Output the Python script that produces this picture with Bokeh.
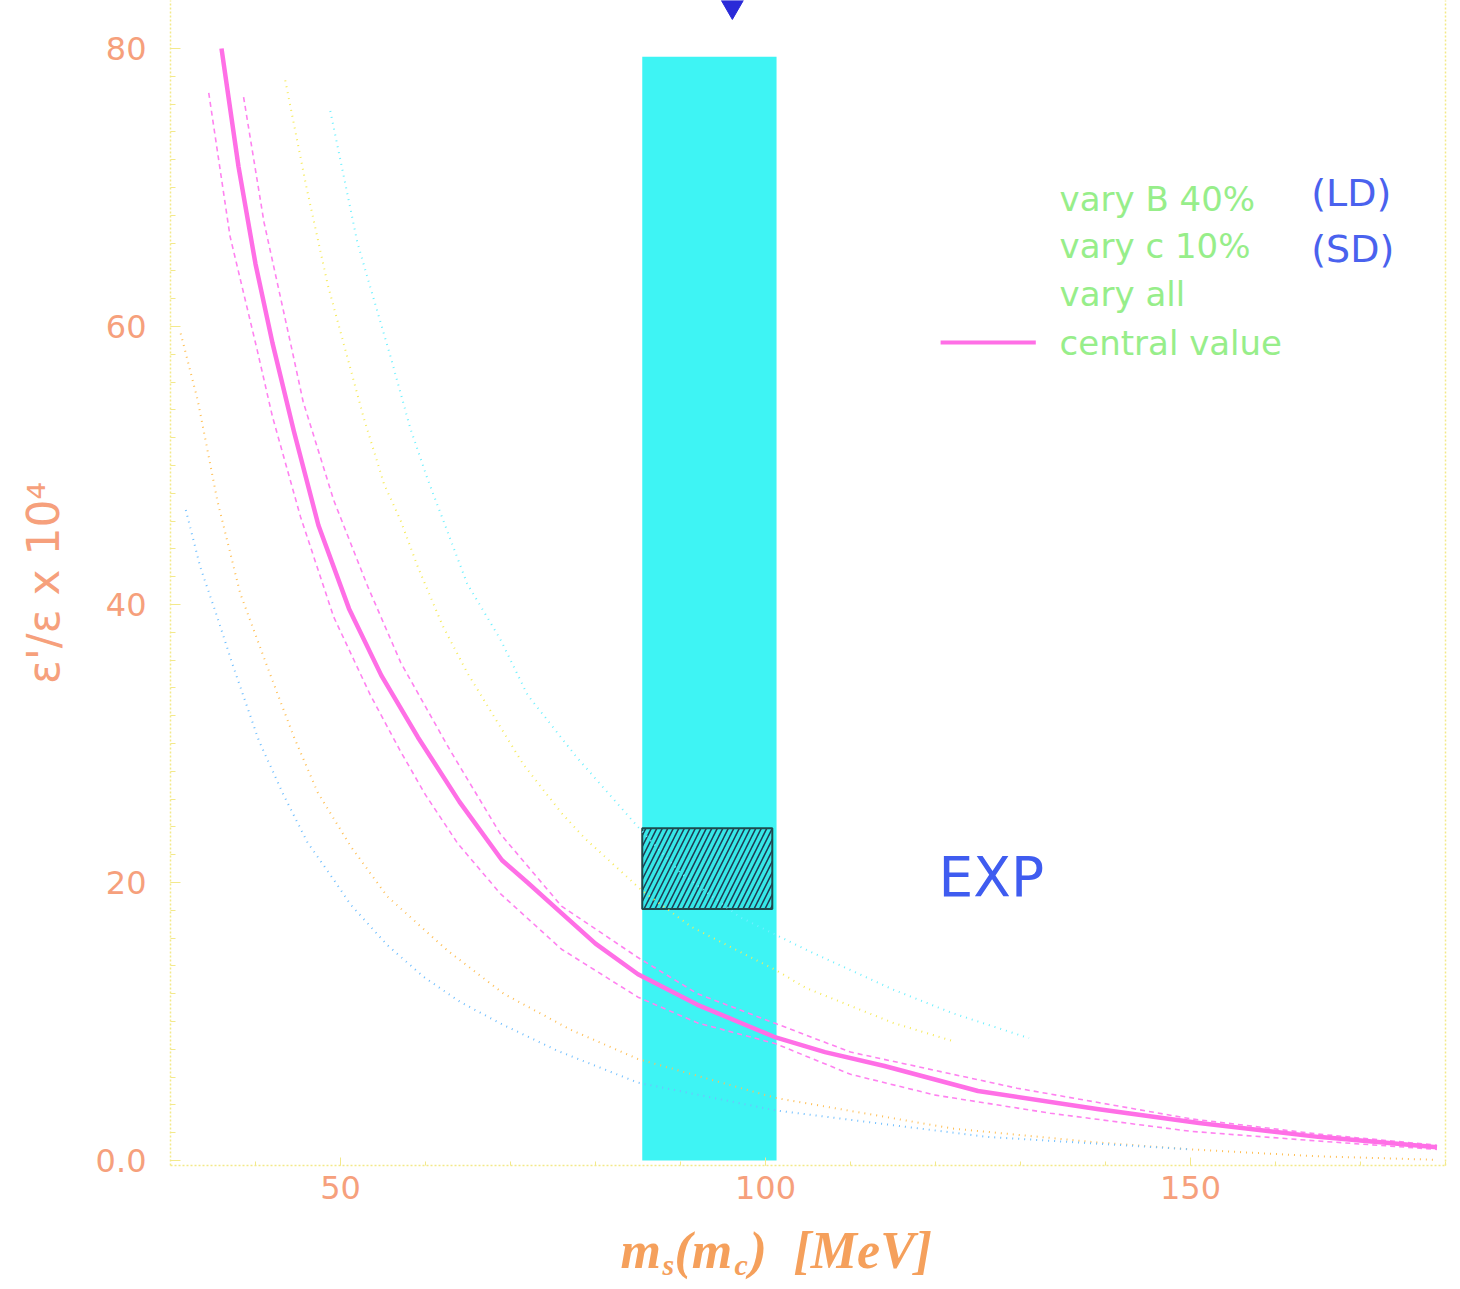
from bokeh.plotting import figure
from bokeh.models import Range1d, FixedTicker, LinearAxis
from bokeh.layouts import column
from bokeh.core.properties import value
from bokeh.embed import file_html
from bokeh.resources import INLINE

# ---------------- data ----------------
# central value (thick magenta)
central_x = [36, 38, 40, 42, 44.5, 47.4, 51, 54.8, 59.1, 64, 69, 72, 76, 80, 85, 92, 101, 107, 114, 125, 139, 151, 165, 179]
central_y = [80, 71.5, 64.5, 58.8, 52.5, 45.7, 39.7, 34.9, 30.45, 25.8, 21.6, 20.0, 17.8, 15.6, 13.4, 11.2, 8.9, 7.8, 6.8, 5.0, 3.7, 2.7, 1.7, 0.95]

# thin dashed magenta pair
mag_lo_x = [34.5, 37, 40.2, 42, 45.3, 49.2, 53.5, 57, 60, 63.8, 68.8, 76, 85, 92, 101.2, 110, 120, 133.5, 150, 165, 179]
mag_lo_y = [76.8, 66.5, 58.3, 53.5, 46.3, 39.1, 33.5, 29.5, 26.3, 22.8, 19.2, 15.2, 11.75, 9.9, 8.4, 6.2, 4.7, 3.4, 2.1, 1.4, 0.8]
mag_hi_x = [38.6, 41, 44.3, 45.6, 49.2, 53.2, 57.1, 62.9, 68.8, 76, 85, 92, 101.2, 110, 129.6, 150, 165, 179]
mag_hi_y = [76.5, 67.5, 58.3, 54.6, 47.5, 41.3, 35.8, 29.5, 23.5, 18.3, 14.6, 12.0, 9.85, 7.8, 5.2, 3.0, 1.9, 1.1]

# dotted yellow pair
yel_hi_x = [43.5, 46, 48.5, 50.8, 52.7, 55.1, 57.1, 59.1, 62, 64.9, 68.8, 71.5, 76, 78.7, 85.5, 91.3, 101.2, 104.8, 115, 122]
yel_hi_y = [77.7, 70, 63, 57.8, 53.5, 48.7, 46.0, 42.7, 38.5, 35.1, 31.2, 28.5, 25.0, 23.2, 19.4, 16.8, 13.7, 12.4, 9.9, 8.6]
yel_lo_x = [31.2, 33.2, 35.5, 38.2, 41.4, 44.5, 47.3, 51.2, 55.5, 62.6, 69.2, 77.1, 85, 101.2, 122, 139, 150, 165, 179]
yel_lo_y = [59.5, 54.7, 47.5, 40.8, 35.5, 30.5, 26.5, 22.6, 19.0, 15.1, 12.0, 9.4, 7.3, 4.5, 2.3, 1.3, 0.8, 0.3, 0.05]

# dotted cyan pair
cyan_hi_x = [48.8, 52, 55.9, 58.2, 60.2, 64.9, 68.8, 72, 77.8, 85, 90, 97, 102, 105, 115, 122, 128, 131]
cyan_hi_y = [75.5, 66, 57.8, 52.7, 49.1, 41.5, 37.5, 33.5, 29.0, 24.0, 20.7, 17.5, 16.0, 15.1, 12.3, 10.6, 9.4, 8.8]
cyan_lo_x = [31.8, 33.5, 35.5, 37.4, 40.4, 43.3, 46.1, 49.2, 51.2, 55.5, 59.8, 64.1, 69, 75.5, 85, 101.2, 126, 150]
cyan_lo_y = [46.8, 42.7, 39.1, 35.5, 30.2, 26.3, 22.9, 20.2, 18.4, 15.5, 13.2, 11.4, 9.8, 7.9, 5.6, 3.6, 1.7, 0.8]

# experimental band (ms range) and hatched experimental box (eps'/eps range)
band_ms = [85.5, 101.3]
band_top = 79.4
exp_ms = [85.5, 100.8]
exp_eps = [18.1, 23.9]
arrow_ms = [96.1]
arrow_y = [83.0]

x_ticks = [50, 100, 150]
y_ticks = [0, 20, 40, 60, 80]

legend_labels = ["vary B 40%", "vary c 10%", "vary all", "central value"]
legend_tags = ["(LD)", "(SD)"]

TICK_COLOR = "#f6a07c"
AXIS_COLOR = "#f3e98a"

# ---------------- main figure ----------------
p = figure(width=1460, height=1215,
           x_range=Range1d(30, 180), y_range=Range1d(-0.36, 83.45),
           output_backend="svg", toolbar_location=None,
           min_border_left=170, min_border_right=15,
           min_border_top=0, min_border_bottom=50)
p.outline_line_color = None
p.grid.visible = False
p.background_fill_color = "white"
p.border_fill_color = "white"

# x axis
xa = p.xaxis[0]
xa.ticker = FixedTicker(ticks=x_ticks, minor_ticks=list(range(40, 181, 10)))
xa.major_label_text_font = "DejaVu Sans"
xa.major_label_text_font_size = "32px"
xa.major_label_text_color = TICK_COLOR
xa.major_label_standoff = 10
xa.major_tick_in = 8
xa.major_tick_out = 0
xa.minor_tick_in = 4
xa.minor_tick_out = 0
xa.major_tick_line_color = AXIS_COLOR
xa.minor_tick_line_color = AXIS_COLOR
xa.axis_line_color = AXIS_COLOR
xa.axis_line_dash = "2 2"
xa.axis_line_width = 1.5

# y axis
ya = p.yaxis[0]
ya.ticker = FixedTicker(ticks=y_ticks, minor_ticks=list(range(0, 81, 2)))
ya.major_label_overrides = {0: "0.0"}
ya.major_label_text_font = "DejaVu Sans"
ya.major_label_text_font_size = "32px"
ya.major_label_text_color = TICK_COLOR
ya.major_label_standoff = 24
ya.major_tick_in = 10
ya.major_tick_out = 0
ya.minor_tick_in = 5
ya.minor_tick_out = 0
ya.major_tick_line_color = AXIS_COLOR
ya.minor_tick_line_color = AXIS_COLOR
ya.axis_line_color = AXIS_COLOR
ya.axis_line_dash = "2 2"
ya.axis_line_width = 1.5
ya.axis_label = "ε'/ε x 10⁴"
ya.axis_label_text_font = "DejaVu Sans"
ya.axis_label_text_font_style = "normal"
ya.axis_label_text_font_size = "44px"
ya.axis_label_text_color = TICK_COLOR
ya.axis_label_standoff = 24

ra = LinearAxis(ticker=FixedTicker(ticks=[]), axis_line_color=AXIS_COLOR,
                axis_line_dash="2 2", axis_line_width=1.5,
                major_label_text_font_size="0px")
p.add_layout(ra, "right")

# ---------------- band and box ----------------
p.quad(left=[band_ms[0]], right=[band_ms[1]], bottom=[0], top=[band_top],
       fill_color="#3ef4f4", line_color=None)
p.quad(left=[exp_ms[0]], right=[exp_ms[1]], bottom=[exp_eps[0]], top=[exp_eps[1]],
       fill_color="#36e8e8", line_color="#1d4b4e", line_width=2,
       hatch_pattern="/", hatch_color="#1d3f55", hatch_scale=11, hatch_weight=1.6)

# ---------------- curves ----------------
DOT = "1 5"
p.line(yel_lo_x, yel_lo_y, line_color="#ffbf55", line_width=2, line_dash=DOT, line_join="round")
p.line(cyan_lo_x, cyan_lo_y, line_color="#70bfff", line_width=2, line_dash=DOT, line_join="round")
p.line(yel_hi_x, yel_hi_y, line_color="#f6ea5a", line_width=2, line_dash=DOT, line_join="round")
p.line(cyan_hi_x, cyan_hi_y, line_color="#6ff0ff", line_width=2, line_dash=DOT, line_join="round")
p.line(mag_lo_x, mag_lo_y, line_color="#ff82f0", line_width=1.6, line_dash="5 4", line_join="round")
p.line(mag_hi_x, mag_hi_y, line_color="#ff82f0", line_width=1.6, line_dash="5 4", line_join="round")
p.line(central_x, central_y, line_color="#ff6fe6", line_width=4.5, line_join="round")

# arrow marker at top
p.scatter(arrow_ms, arrow_y, marker="inverted_triangle", size=22,
          fill_color="#2a2ad8", line_color="#2a2ad8")

# ---------------- legend (drawn as text) ----------------
p.text(x=[134.6] * 4, y=[69.2, 65.76, 62.3, 58.78], text=legend_labels,
       text_font=value("DejaVu Sans"), text_font_size=value("34px"),
       text_color="#97ee8a", text_baseline="middle", text_align="left")
p.text(x=[164.2, 164.2], y=[69.57, 65.6], text=legend_tags,
       text_font=value("DejaVu Sans"), text_font_size=value("38px"),
       text_color="#4a62ee", text_baseline="middle", text_align="left")
p.line([120.6, 131.8], [58.85, 58.85], line_color="#ff6fe6", line_width=4)

p.text(x=[120.35], y=[20.43], text=["EXP"],
       text_font=value("DejaVu Sans"), text_font_size=value("55px"),
       text_color="#3f5cf0", text_baseline="middle", text_align="left")

# ---------------- x-axis title strip (with subscripts) ----------------
p2 = figure(width=1460, height=74, x_range=p.x_range, y_range=Range1d(0, 74),
            x_axis_type=None, y_axis_type=None,
            output_backend="svg", toolbar_location=None,
            min_border_left=170, min_border_right=15,
            min_border_top=0, min_border_bottom=0)
p2.outline_line_color = None
p2.background_fill_color = "white"
p2.border_fill_color = "white"

XL_COLOR = "#f5a05c"
xl_big_x = [82.94, 89.29, 98.12, 103.3]
xl_big_t = ["m", "(m", ")", "[MeV]"]
xl_small_x = [87.88, 96.35]
xl_small_t = ["s", "c"]
p2.text(x=xl_big_x, y=[39] * 4, text=xl_big_t,
        text_font=value("Liberation Serif"), text_font_style="bold italic",
        text_font_size=value("52px"), text_color=XL_COLOR,
        text_baseline="middle", text_align="left")
p2.text(x=xl_small_x, y=[25] * 2, text=xl_small_t,
        text_font=value("Liberation Serif"), text_font_style="bold italic",
        text_font_size=value("30px"), text_color=XL_COLOR,
        text_baseline="middle", text_align="left")

layout = column(p, p2, spacing=0)
open("out.html", "w").write(file_html(layout, INLINE))
